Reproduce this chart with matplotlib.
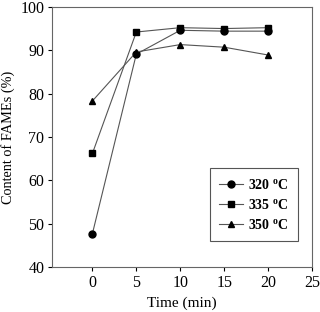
import matplotlib
matplotlib.use("Agg")
import matplotlib.pyplot as plt

plt.rcParams['font.family'] = ['Liberation Serif', 'DejaVu Serif']
plt.rcParams['mathtext.fontset'] = 'custom'
plt.rcParams['mathtext.rm'] = 'Liberation Serif'
plt.rcParams['mathtext.bf'] = 'Liberation Serif:bold'

time_min = [0, 5, 10, 15, 20]
fames_320 = [47.7, 89.1, 94.6, 94.4, 94.4]
fames_335 = [66.2, 94.2, 95.2, 95.0, 95.2]
fames_350 = [78.3, 89.6, 91.3, 90.7, 88.9]
labels = [r'320 $\mathbf{^{o}}$C', r'335 $\mathbf{^{o}}$C', r'350 $\mathbf{^{o}}$C']

fig = plt.figure(figsize=(3.2, 3.12), dpi=100)
ax = fig.add_axes([0.1625, 0.144, 0.8125, 0.834])

ax.plot(time_min, fames_320, color='#555555', lw=0.8, marker='o', ms=5,
        mfc='black', mec='black', label=labels[0])
ax.plot(time_min, fames_335, color='#555555', lw=0.8, marker='s', ms=5,
        mfc='black', mec='black', label=labels[1])
ax.plot(time_min, fames_350, color='#555555', lw=0.8, marker='^', ms=5,
        mfc='black', mec='black', label=labels[2])

ax.set_xlim(-4.6, 25)
ax.set_ylim(40, 100)
ax.set_xticks([0, 5, 10, 15, 20, 25])
ax.set_yticks([40, 50, 60, 70, 80, 90, 100])
ax.tick_params(labelsize=11.5, direction='out', length=3, width=0.8, top=False, right=False, pad=2.5)
for s in ax.spines.values():
    s.set_color('#666666')
    s.set_linewidth(0.8)

ax.set_xlabel('Time (min)', fontsize=11, labelpad=4)
ax.set_ylabel('Content of FAMEs (%)', fontsize=10.3, labelpad=4)

leg = ax.legend(loc='lower right', bbox_to_anchor=(0.945, 0.1), fancybox=False,
                edgecolor='#555555', framealpha=1, prop={'weight': 'bold', 'size': 10},
                handlelength=1.7, handletextpad=0.4, borderpad=0.65, borderaxespad=0,
                labelspacing=0.45)
leg.get_frame().set_linewidth(0.8)

fig.savefig('out.png', dpi=100)
